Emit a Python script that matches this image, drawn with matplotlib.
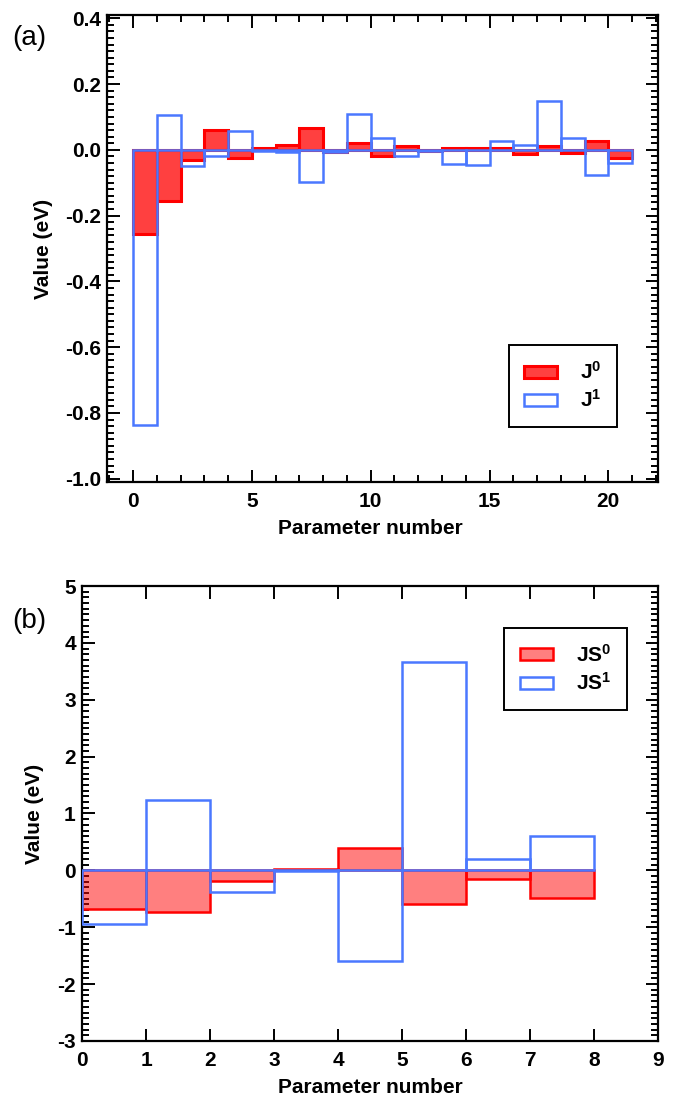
import numpy as np
import matplotlib
matplotlib.use("Agg")
import matplotlib.pyplot as plt
from matplotlib.ticker import MultipleLocator, FormatStrFormatter

plt.rcParams['font.family'] = ['Liberation Sans', 'DejaVu Sans']
plt.rcParams['font.weight'] = 'bold'
plt.rcParams['axes.unicode_minus'] = False
plt.rcParams['mathtext.fontset'] = 'custom'
plt.rcParams['mathtext.rm'] = 'Liberation Sans:bold'
plt.rcParams['mathtext.it'] = 'Liberation Sans:bold'
plt.rcParams['mathtext.bf'] = 'Liberation Sans:bold'

# panel (a): J parameters
j0 = [-0.256, -0.157, -0.032, 0.059, -0.026, 0.007, 0.015, 0.066, -0.006, 0.022,
      -0.018, 0.013, -0.003, 0.007, 0.007, 0.005, -0.012, 0.013, -0.010, 0.028, -0.026]
j1 = [-0.838, 0.106, -0.048, -0.020, 0.058, -0.005, -0.008, -0.099, -0.008, 0.110,
      0.036, -0.020, -0.005, -0.043, -0.046, 0.027, 0.015, 0.147, 0.036, -0.077, -0.040]

# panel (b): JS parameters
js0 = [-0.68, -0.74, -0.19, 0.03, 0.40, -0.59, -0.15, -0.48]
js1 = [-0.94, 1.24, -0.38, -0.02, -1.60, 3.66, 0.20, 0.61]

RED = '#ff0000'
BLUE = '#4a78ff'
FS = 15

fig = plt.figure(figsize=(6.73, 11.02), dpi=100)
ax1 = fig.add_axes([0.159, 0.5626, 0.819, 0.4238])
ax2 = fig.add_axes([0.122, 0.0554, 0.856, 0.4128])


def style_axes(ax):
    for s in ax.spines.values():
        s.set_linewidth(1.6)
    ax.tick_params(which='both', direction='in', top=True, right=True,
                   width=1.4, labelsize=FS)
    ax.tick_params(axis='x', pad=7)
    ax.tick_params(axis='y', pad=4.5)
    ax.tick_params(which='major', length=9)
    ax.tick_params(which='minor', length=5)


leg_kw = dict(fontsize=FS, frameon=True, fancybox=False, framealpha=1,
              edgecolor='black', handlelength=1.6, handleheight=0.5,
              handletextpad=1.1, labelspacing=0.3, borderpad=0.75)

# ---- (a)
x1 = np.arange(len(j0))
ax1.bar(x1, j0, width=1, align='edge', color=(1, 0, 0, 0.75),
        edgecolor=RED, linewidth=2.2, label='J$^{0}$', zorder=2)
ax1.bar(x1, j1, width=1, align='edge', facecolor='none',
        edgecolor=BLUE, linewidth=1.8, label='J$^{1}$', zorder=3)
ax1.set_xlim(-1.1, 22.1)
ax1.set_ylim(-1.01, 0.41)
ax1.xaxis.set_major_locator(MultipleLocator(5))
ax1.xaxis.set_minor_locator(MultipleLocator(1))
ax1.yaxis.set_major_locator(MultipleLocator(0.2))
ax1.yaxis.set_minor_locator(MultipleLocator(0.02))
ax1.yaxis.set_major_formatter(FormatStrFormatter('%.1f'))
style_axes(ax1)
ax1.set_xlabel('Parameter number', fontsize=FS, fontweight='bold')
ax1.set_ylabel('Value (eV)', fontsize=FS, fontweight='bold')
ax1.xaxis.set_label_coords(0.477, -0.079)
ax1.yaxis.set_label_coords(-0.098, 0.5)
leg1 = ax1.legend(loc='lower right', bbox_to_anchor=(0.945, 0.096), **leg_kw)
leg1.get_frame().set_linewidth(1.4)

# ---- (b)
x2 = np.arange(len(js0))
ax2.bar(x2, js0, width=1, align='edge', color=(1, 0, 0, 0.5),
        edgecolor=RED, linewidth=1.8, label='JS$^{0}$', zorder=2)
ax2.bar(x2, js1, width=1, align='edge', facecolor='none',
        edgecolor=BLUE, linewidth=1.8, label='JS$^{1}$', zorder=3)
ax2.set_xlim(0, 9)
ax2.set_ylim(-3, 5)
ax2.xaxis.set_major_locator(MultipleLocator(1))
ax2.yaxis.set_major_locator(MultipleLocator(1))
ax2.yaxis.set_minor_locator(MultipleLocator(0.1))
style_axes(ax2)
ax2.set_xlabel('Parameter number', fontsize=FS, fontweight='bold')
ax2.set_ylabel('Value (eV)', fontsize=FS, fontweight='bold')
ax2.xaxis.set_label_coords(0.5, -0.081)
ax2.yaxis.set_label_coords(-0.066, 0.5)
leg2 = ax2.legend(loc='upper right', bbox_to_anchor=(0.964, 0.93), **leg_kw)
leg2.get_frame().set_linewidth(1.4)

fig.text(0.018, 0.9655, '(a)', fontsize=20, fontweight='normal', va='center')
fig.text(0.018, 0.4365, '(b)', fontsize=20, fontweight='normal', va='center')

fig.savefig('out.png', dpi=100)
